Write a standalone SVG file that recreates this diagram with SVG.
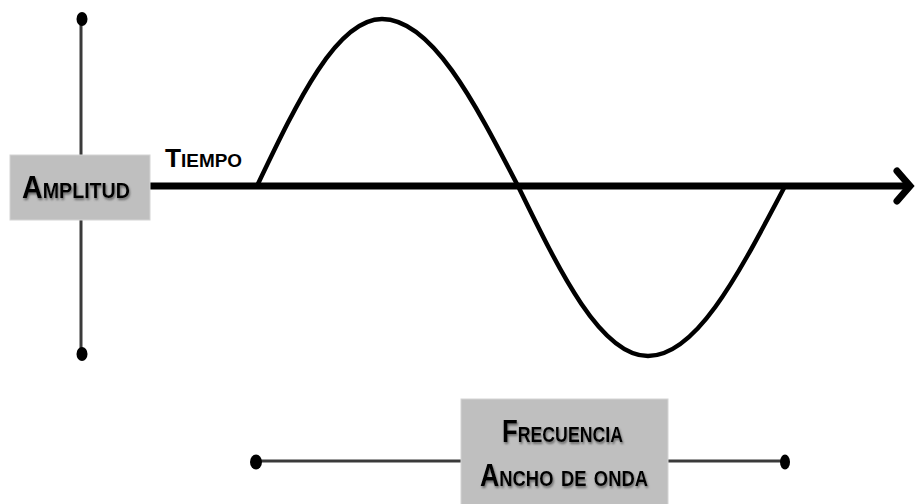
<svg xmlns="http://www.w3.org/2000/svg" width="916" height="504" viewBox="0 0 916 504">
<defs>
<style>
.box{fill:#bfbfbf;stroke:#d4d4d4;stroke-width:1}
.lbl{font-family:"Liberation Sans",Arial,sans-serif;font-weight:bold;font-variant:small-caps;fill:#000}
.dot{fill:#000}
.thin{stroke:#3a3a3a;stroke-width:3;fill:none}
</style>
<filter id="sh" x="-10%" y="-20%" width="130%" height="160%">
<feDropShadow dx="1" dy="2" stdDeviation="0.8" flood-color="#555" flood-opacity="0.8"/>
</filter>
</defs>
<rect width="916" height="504" fill="#fff"/>
<g id="connectors">
<line class="thin" x1="81" y1="19" x2="81" y2="354"/>
<line class="thin" x1="256" y1="461" x2="785" y2="461"/>
<line x1="148" y1="186" x2="906" y2="186" stroke="#000" stroke-width="7"/>
<polyline points="897,171 910,186 897,201" fill="none" stroke="#000" stroke-width="7" stroke-linejoin="miter" stroke-linecap="round"/>
<path d="M257,186 C297.8,100.4 336.8,19 382,19 C431.2,19 473.7,100.4 518,186 C560.4,273.1 601,356 648,356 C696.9,356 739,273.1 784,188" fill="none" stroke="#000" stroke-width="4.5" stroke-linecap="round"/>
</g>
<g id="dots">
<ellipse class="dot" cx="82" cy="19" rx="5.5" ry="7"/>
<ellipse class="dot" cx="82" cy="354" rx="5.5" ry="7"/>
<ellipse class="dot" cx="256" cy="462" rx="6" ry="7.5"/>
<ellipse class="dot" cx="785" cy="462" rx="5" ry="7.5"/>
</g>
<g id="amplitud">
<rect class="box" x="10" y="155" width="140" height="65"/>
<text class="lbl" x="22" y="198" font-size="32" textLength="108" lengthAdjust="spacingAndGlyphs" filter="url(#sh)">Amplitud</text>
</g>
<g id="tiempo">
<text class="lbl" x="165" y="167" font-size="25" textLength="77" lengthAdjust="spacingAndGlyphs">Tiempo</text>
</g>
<g id="frecuencia">
<rect class="box" x="461" y="399" width="207" height="106"/>
<text class="lbl" x="502" y="442" font-size="32" textLength="121" lengthAdjust="spacingAndGlyphs" filter="url(#sh)">Frecuencia</text>
<text class="lbl" x="480" y="486" font-size="32" textLength="168" lengthAdjust="spacingAndGlyphs" filter="url(#sh)">Ancho de onda</text>
</g>
</svg>
